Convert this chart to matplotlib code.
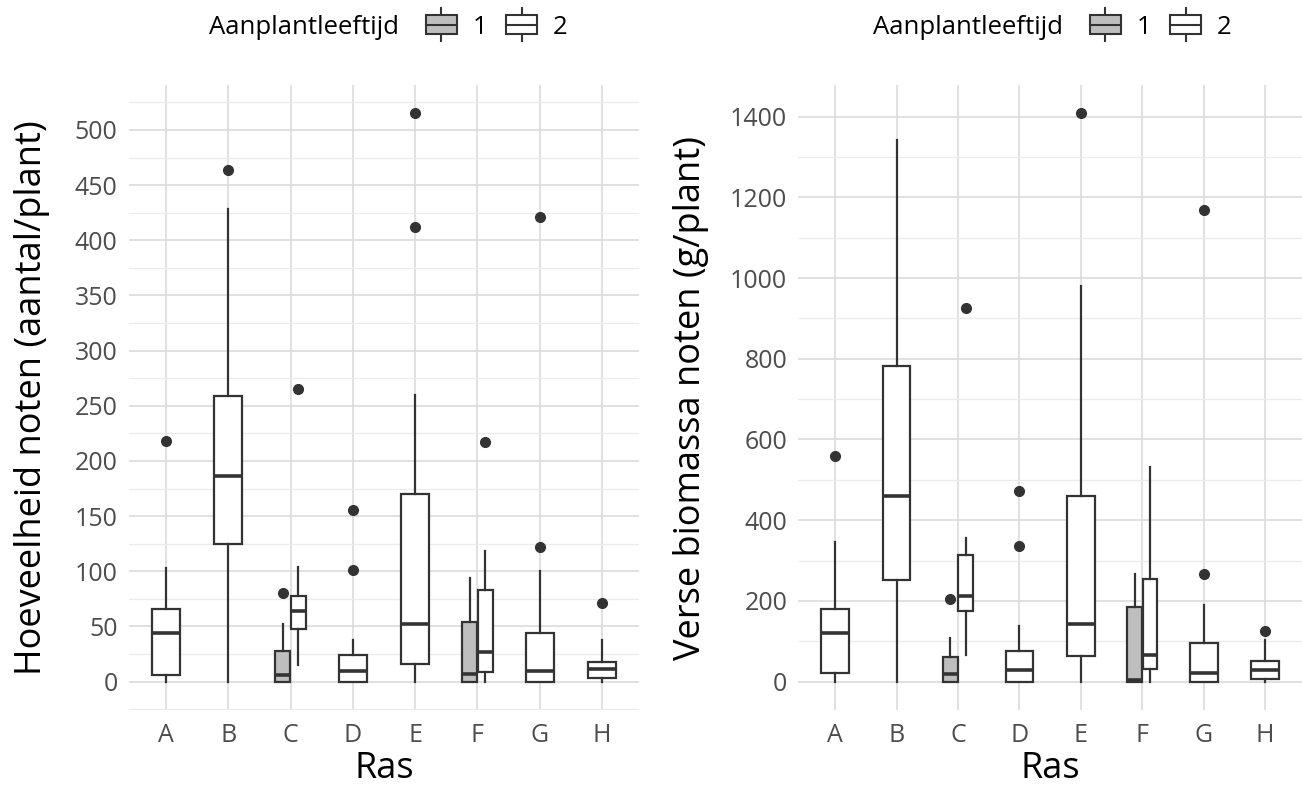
import matplotlib
matplotlib.use("Agg")
import matplotlib.pyplot as plt
from matplotlib.patches import Rectangle, Patch
from matplotlib.lines import Line2D
from matplotlib.legend_handler import HandlerBase
from matplotlib.ticker import MultipleLocator

plt.rcParams['font.family'] = ['Open Sans', 'DejaVu Sans']

# varieties (Ras)
ras = ['A', 'B', 'C', 'D', 'E', 'F', 'G', 'H']
# only these varieties also have planting age 1
ras_age1 = ['C', 'F']

# --- left panel: number of nuts (aantal/plant), planting age 2 ---
n_q1_2 = [6, 125, 48, 0, 16, 9, 0, 3]
n_med_2 = [44, 186, 64, 10, 52, 27, 10, 11]
n_q3_2 = [66, 259, 78, 24, 170, 83, 44, 18]
n_lo_2 = [0, 0, 15, 0, 0, 0, 0, 0]
n_hi_2 = [103, 428, 104, 38, 260, 118, 100, 38]
n_out_2 = [[218], [464], [265], [101, 156], [412, 515], [217], [122, 421], [71]]
# planting age 1 (C, F)
n_q1_1 = [0, 0]
n_med_1 = [6, 7]
n_q3_1 = [28, 54]
n_lo_1 = [0, 0]
n_hi_1 = [52, 94]
n_out_1 = [[80], []]

# --- right panel: fresh biomass (g/plant), planting age 2 ---
b_q1_2 = [21, 251, 175, 0, 63, 32, 0, 7]
b_med_2 = [120, 461, 211, 30, 144, 66, 22, 29]
b_q3_2 = [181, 782, 315, 75, 459, 254, 96, 51]
b_lo_2 = [0, 0, 65, 0, 0, 0, 0, 0]
b_hi_2 = [346, 1342, 355, 139, 980, 533, 191, 104]
b_out_2 = [[560], [], [925], [336, 473], [1408], [], [266, 1169], [125]]
# planting age 1 (C, F)
b_q1_1 = [0, 0]
b_med_1 = [20, 3]
b_q3_1 = [60, 186]
b_lo_1 = [0, 0]
b_hi_1 = [109, 266]
b_out_1 = [[204], []]

dark = '#333333'
grey_fill = '#bebebe'
tick_col = '#4d4d4d'


def make_stats(q1, med, q3, lo, hi, out):
    return [dict(q1=a, med=b, q3=c, whislo=d, whishi=e, fliers=f)
            for a, b, c, d, e, f in zip(q1, med, q3, lo, hi, out)]


def draw_boxes(ax, stats, positions, widths, fill):
    ax.bxp(stats, positions=positions, widths=widths, showcaps=False,
           patch_artist=True,
           boxprops=dict(facecolor=fill, edgecolor=dark, linewidth=1.6),
           medianprops=dict(color=dark, linewidth=2.6, solid_capstyle='butt'),
           whiskerprops=dict(color=dark, linewidth=1.6),
           flierprops=dict(marker='o', markerfacecolor=dark, markeredgecolor=dark,
                           markersize=7, linestyle='none'))


def panel(ax, s2, s1, major, minor, ylim, ylabel):
    pos2 = []
    w2 = []
    for i, r in enumerate(ras):
        if r in ras_age1:
            pos2.append(i + 1 + 0.125)
            w2.append(0.235)
        else:
            pos2.append(i + 1)
            w2.append(0.45)
    pos1 = [ras.index(r) + 1 - 0.125 for r in ras_age1]
    draw_boxes(ax, s2, pos2, w2, 'white')
    draw_boxes(ax, s1, pos1, [0.235] * len(pos1), grey_fill)

    ax.set_xlim(0.4, len(ras) + 0.6)
    ax.set_ylim(*ylim)
    ax.set_xticks(range(1, len(ras) + 1))
    ax.set_xticklabels(ras)
    ax.yaxis.set_major_locator(MultipleLocator(major))
    ax.yaxis.set_minor_locator(MultipleLocator(minor))
    ax.grid(True, which='major', color='#dcdcdc', linewidth=1.2, zorder=0)
    ax.grid(True, which='minor', axis='y', color='#ebebeb', linewidth=0.9, zorder=0)
    ax.set_axisbelow(True)
    for sp in ax.spines.values():
        sp.set_visible(False)
    ax.tick_params(which='both', length=0, labelsize=18, labelcolor=tick_col)
    ax.tick_params(axis='x', pad=9)
    ax.tick_params(axis='y', pad=8)
    ax.set_xlabel('Ras', fontsize=26)
    ax.set_ylabel(ylabel, fontsize=26)


class BoxKey(HandlerBase):
    def create_artists(self, legend, orig_handle, xdescent, ydescent,
                       width, height, fontsize, trans):
        fc = orig_handle.get_facecolor()
        x0 = -xdescent
        cx = x0 + width / 2
        cy = height / 2 - ydescent
        bh = 0.37 * fontsize
        wh = 0.63 * fontsize
        w_top = Line2D([cx, cx], [cy + bh, cy + wh], color=dark, lw=1.5, transform=trans)
        w_bot = Line2D([cx, cx], [cy - wh, cy - bh], color=dark, lw=1.5, transform=trans)
        box = Rectangle((x0, cy - bh), width, 2 * bh, facecolor=fc, edgecolor=dark,
                        lw=1.5, transform=trans)
        med = Line2D([x0, x0 + width], [cy, cy], color=dark, lw=1.5, transform=trans)
        return [w_top, w_bot, box, med]


def legend(fig, ax, title_x, keys_x, y):
    fig.text(title_x, y, 'Aanplantleeftijd', fontsize=18.5, ha='left', va='center')
    handles = [Patch(facecolor=grey_fill), Patch(facecolor='white')]
    ax.legend(handles, ['1', '2'], handler_map={Patch: BoxKey()}, ncol=2,
              frameon=False, fontsize=18.5, loc='center left',
              bbox_to_anchor=(keys_x, y), bbox_transform=fig.transFigure,
              borderpad=0, borderaxespad=0, handlelength=1.2,
              handletextpad=0.6, columnspacing=0.75)


fig = plt.figure(figsize=(13.02, 7.85), dpi=100)
ax1 = fig.add_axes([0.0988, 0.0955, 0.3923, 0.7962])
ax2 = fig.add_axes([0.6131, 0.0955, 0.3869, 0.7962])

panel(ax1,
      make_stats(n_q1_2, n_med_2, n_q3_2, n_lo_2, n_hi_2, n_out_2),
      make_stats(n_q1_1, n_med_1, n_q3_1, n_lo_1, n_hi_1, n_out_1),
      50, 25, (-25.75, 540.75), 'Hoeveelheid noten (aantal/plant)')
panel(ax2,
      make_stats(b_q1_2, b_med_2, b_q3_2, b_lo_2, b_hi_2, b_out_2),
      make_stats(b_q1_1, b_med_1, b_q3_1, b_lo_1, b_hi_1, b_out_1),
      200, 100, (-70.4, 1478.4), 'Verse biomassa noten (g/plant)')

for ax, lx in ((ax1, -0.19), (ax2, -0.212)):
    ax.yaxis.set_label_coords(lx, 0.5)
    ax.yaxis.label.set_va('center')
    ax.xaxis.set_label_coords(0.5, -0.1088)
    ax.xaxis.label.set_va('baseline')

legend(fig, ax1, 209 / 1302, 426 / 1302, 1 - 27 / 785)
legend(fig, ax2, 873 / 1302, 1090 / 1302, 1 - 27 / 785)

fig.savefig('out.png', dpi=100, facecolor='white')
